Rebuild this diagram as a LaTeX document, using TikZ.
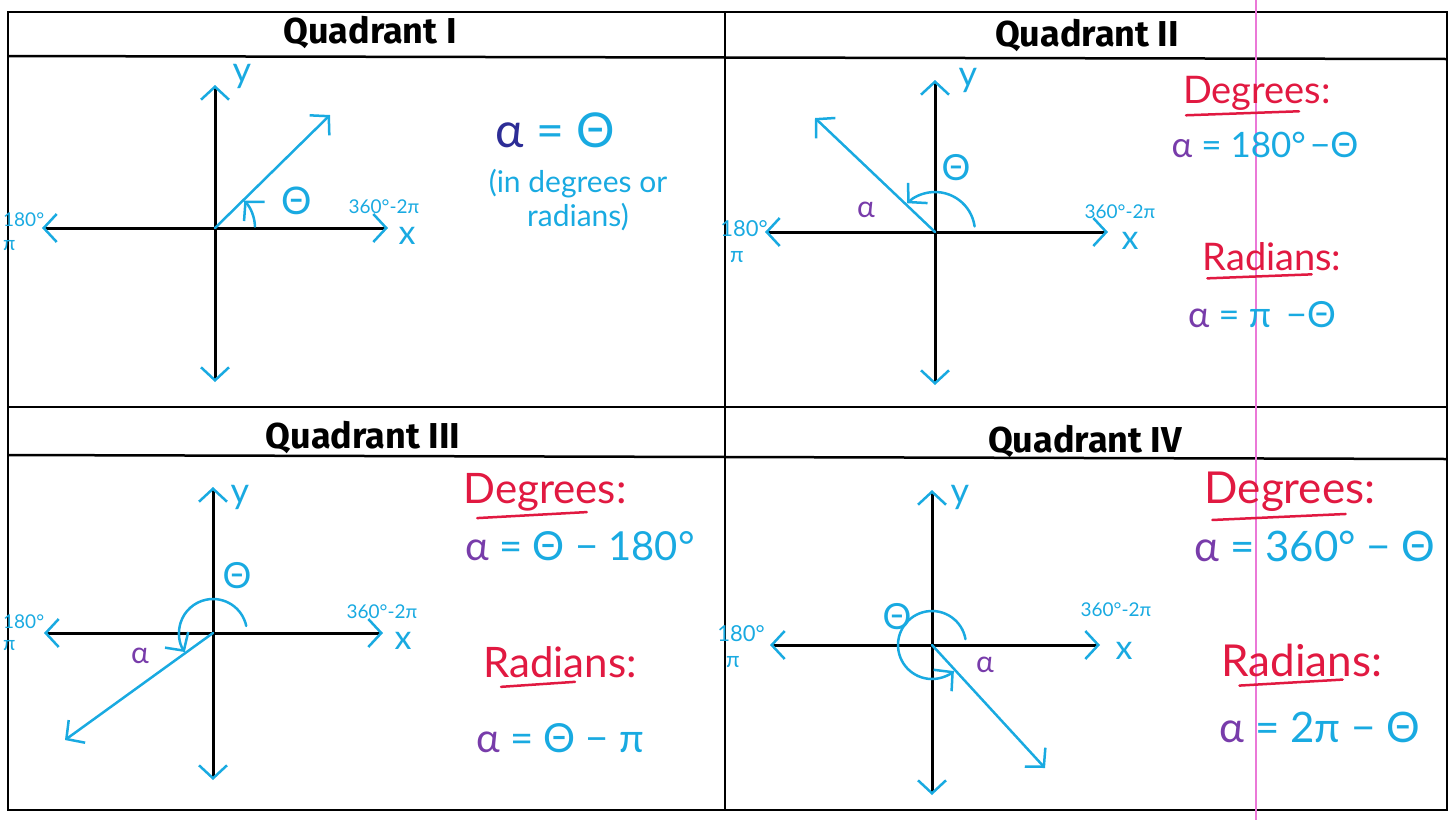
\documentclass[tikz,border=0pt]{standalone}
\usepackage{fontspec}
\usetikzlibrary{arrows.meta, calc}

\newfontfamily\titlefont{Fira Sans}
\newfontfamily\handfont{Lato}

\definecolor{penblue}{RGB}{25,170,225}
\definecolor{penpurple}{RGB}{120,60,170}
\definecolor{pennavy}{RGB}{45,45,150}
\definecolor{penred}{RGB}{225,25,65}
\definecolor{marginpink}{RGB}{235,120,215}

\tikzset{
  table line/.style={line width=2.5pt, black},
  axis line/.style={line width=3pt, black, <->},
  pen/.style={line width=2.5pt, penblue, line cap=round},
  underline/.style={line width=2.5pt, penred, line cap=round},
  quad title/.style={font=\titlefont\bfseries\fontsize{36}{38}\selectfont},
  hand/.style={font=\handfont\fontsize{#1}{#1}\selectfont, inner sep=0pt},
}

\begin{document}
\begin{tikzpicture}[x=1pt, y=1pt,
    >={Straight Barb[color=penblue, line width=2.5pt, length=13pt, width=28pt]}]
        \useasboundingbox (0,0) rectangle (1454,-820);

        % 表格 (table)
        \coordinate (tl) at (8,-12);
        \coordinate (br) at (1447,-810);
        \draw[table line] (tl) rectangle (br);
        \draw[table line] (8,-56) -- (1447,-59);
        \draw[table line] (8,-407) -- (1447,-407);
        \draw[table line] (8,-455) -- (1447,-459);
        \draw[table line] (725,-12) -- (725,-810);

        % 页边线 (notebook margin)
        \draw[marginpink, line width=1.5pt] (1256,0) -- (1256,-820);

        % 标题
        \node[quad title] (t1) at (370,-32) {Quadrant I};
        \node[quad title] (t2) at (1087,-35) {Quadrant II};
        \node[quad title] (t3) at (363,-437) {Quadrant III};
        \node[quad title] (t4) at (1085,-441) {Quadrant IV};

        % ---------- Quadrant I ----------
        \coordinate (O1) at (215,-228);
        \draw[axis line] (215,-382) -- (215,-85);
        \draw[axis line] (42,-228) -- (388,-228);
        \coordinate (R1) at (330,-115);
        \draw[pen, ->] (O1) -- (R1);
        \draw[pen, ->] (O1) ++(2:40) arc[start angle=2, end angle=43, radius=40];
        \node[hand=36, text=penblue] (y1) at (242,-76) {y};
        \node[hand=34, text=penblue] (x1) at (407,-236) {x};
        \node[hand=19, text=penblue] (xr1) at (384,-207) {360°-2π};
        \node[hand=19, text=penblue, anchor=west] (xl1) at (3,-220) {180°};
        \node[hand=20, text=penblue, anchor=west] (pi1) at (3,-246) {π};
        \node[hand=38, text=penblue] (th1) at (297,-201) {Θ};
        \node[hand=48, text=penblue] (eq1) at (555,-130) {\textcolor{pennavy}{α} = Θ};
        \node[hand=30, text=penblue, align=center, font=\handfont\fontsize{30}{34}\selectfont]
            (note1) at (578,-200) {(in degrees or\\ radians)};

        % ---------- Quadrant II ----------
        \coordinate (O2) at (935,-232);
        \draw[axis line] (935,-385) -- (935,-80);
        \draw[axis line] (765,-232) -- (1108,-232);
        \coordinate (R2) at (815,-118);
        \draw[pen, ->] (O2) -- (R2);
        \draw[pen, ->] (O2) ++(8:40) arc[start angle=8, end angle=134, radius=40];
        \node[hand=36, text=penblue] (y2) at (968,-80) {y};
        \node[hand=34, text=penblue] (x2) at (1130,-241) {x};
        \node[hand=19, text=penblue] (xr2) at (1120,-212) {360°-2π};
        \node[hand=22, text=penblue] (xl2) at (744,-229) {180°};
        \node[hand=22, text=penblue] (pi2) at (737,-257) {π};
        \node[hand=36, text=penblue] (th2) at (956,-168) {Θ};
        \node[hand=30, text=penpurple] (al2) at (866,-210) {α};
        \node[hand=38, text=penred] (deg2) at (1257,-93) {Degrees:};
        \draw[underline] ($(deg2.south west)+(3,-5)$) -- ($(deg2.south east)+(-32,-1)$);
        \node[hand=35, text=penblue] (eqd2) at (1265,-145) {\textcolor{penpurple}{α} = 180°$\,$−Θ};
        \node[hand=38, text=penred] (rad2) at (1272,-257) {Radians:};
        \draw[underline] ($(rad2.south west)+(5,-7)$) -- ($(rad2.south east)+(-30,-3)$);
        \node[hand=36, text=penblue] (eqr2) at (1262,-315) {\textcolor{penpurple}{α} = π \,−Θ};

        % ---------- Quadrant III ----------
        \coordinate (O3) at (213,-633);
        \draw[axis line] (213,-780) -- (213,-487);
        \draw[axis line] (44,-633) -- (383,-633);
        \coordinate (R3) at (65,-740);
        \draw[pen, ->] (O3) -- (R3);
        \draw[pen, ->] (O3) ++(12:34) arc[start angle=12, end angle=214, radius=34];
        \node[hand=36, text=penblue] (y3) at (240,-497) {y};
        \node[hand=34, text=penblue] (x3) at (403,-641) {x};
        \node[hand=19, text=penblue] (xr3) at (382,-612) {360°-2π};
        \node[hand=19, text=penblue, anchor=west] (xl3) at (3,-622) {180°};
        \node[hand=20, text=penblue, anchor=west] (pi3) at (3,-646) {π};
        \node[hand=36, text=penblue] (th3) at (237,-576) {Θ};
        \node[hand=30, text=penpurple] (al3) at (140,-656) {α};
        \node[hand=42, text=penred] (deg3) at (545,-492) {Degrees:};
        \draw[underline] ($(deg3.south west)+(14,-7)$) -- ($(deg3.south east)+(-40,-1)$);
        \node[hand=40, text=penblue] (eqd3) at (580,-546) {\textcolor{penpurple}{α} = Θ − 180°};
        \node[hand=42, text=penred] (rad3) at (560,-662) {Radians:};
        \draw[underline] ($(rad3.south west)+(18,-9)$) -- ($(rad3.south east)+(-62,-4)$);
        \node[hand=40, text=penblue] (eqr3) at (560,-738) {\textcolor{penpurple}{α} = Θ − π};

        % ---------- Quadrant IV ----------
        \coordinate (O4) at (932,-645);
        \draw[axis line] (932,-795) -- (932,-490);
        \draw[axis line] (770,-645) -- (1100,-645);
        \coordinate (R4) at (1045,-768);
        \draw[pen, ->] (O4) -- (R4);
        \draw[pen, ->] (O4) ++(10:34) arc[start angle=10, end angle=310, radius=34];
        \node[hand=36, text=penblue] (y4) at (960,-497) {y};
        \node[hand=34, text=penblue] (x4) at (1124,-651) {x};
        \node[hand=19, text=penblue] (xr4) at (1116,-610) {360°-2π};
        \node[hand=22, text=penblue] (xl4) at (741,-634) {180°};
        \node[hand=22, text=penblue] (pi4) at (733,-662) {π};
        \node[hand=36, text=penblue] (th4) at (897,-617) {Θ};
        \node[hand=30, text=penpurple] (al4) at (985,-665) {α};
        \node[hand=44, text=penred] (deg4) at (1290,-492) {Degrees:};
        \draw[underline] ($(deg4.south west)+(8,-8)$) -- ($(deg4.south east)+(-30,-2)$);
        \node[hand=42, text=penblue] (eqd4) at (1315,-546) {\textcolor{penpurple}{α} = 360° − Θ};
        \node[hand=44, text=penred] (rad4) at (1302,-660) {Radians:};
        \draw[underline] ($(rad4.south west)+(18,-9)$) -- ($(rad4.south east)+(-40,-3)$);
        \node[hand=42, text=penblue] (eqr4) at (1320,-727) {\textcolor{penpurple}{α} = 2π − Θ};
    \end{tikzpicture}
\end{document}
